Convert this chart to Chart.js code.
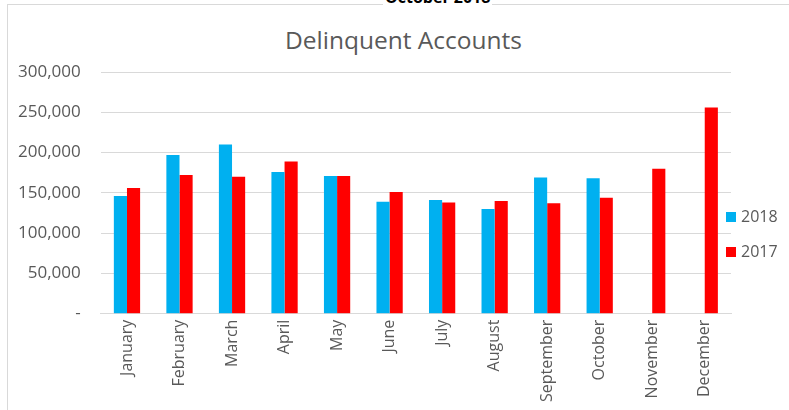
<!DOCTYPE html>
<html>
<head>
<meta charset="utf-8">
<script src="https://cdn.jsdelivr.net/npm/chart.js@4.4.1/dist/chart.umd.min.js"></script>
<style>
    html, body { margin: 0; padding: 0; background: #fff; }
    #wrap { position: relative; width: 789px; height: 410px; overflow: hidden; }
    #frame { position: absolute; left: 7px; top: 4px; width: 800px; height: 420px;
             border-left: 1px solid #d9d9d9; border-top: 1px solid #d9d9d9; }
    #topNote { position: absolute; left: 383px; top: -13px; font: bold 16px "Open Sans", sans-serif;
               color: #000; background: #fff; padding: 0 2px; line-height: 20px; }
    canvas { position: absolute; left: 0; top: 0; }
    #title { position: absolute; left: 18px; width: 771px; top: 23px; text-align: center;
             font: 24.5px "Open Sans", sans-serif; color: #595959; line-height: 34px; }
    #legend { position: absolute; left: 726px; top: 206px; font: 16px "Open Sans", sans-serif; color: #595959; }
    #legend div { height: 35px; line-height: 20px; white-space: nowrap; }
    #legend span { display: inline-block; width: 10px; height: 10px; margin-right: 5px; vertical-align: 0; }
</style>
</head>
<body>
<div id="wrap">
    <div id="frame"></div>
    <div id="topNote">October 2018</div>
    <div id="title">Delinquent Accounts</div>
    <canvas id="chart" width="789" height="410"></canvas>
    <div id="legend"></div>
</div>
<script>
var months = ["January", "February", "March", "April", "May", "June",
    "July", "August", "September", "October", "November", "December"];
var values2018 = [146000, 197000, 210000, 176000, 171000, 139000,
    141000, 130000, 169000, 168000, null, null];
var values2017 = [156000, 172000, 170000, 189000, 171000, 151000,
    138000, 140000, 137000, 144000, 180000, 256000];
var yTicks = [0, 50000, 100000, 150000, 200000, 250000, 300000];

var textColor = "#595959";

var chart = new Chart(document.getElementById("chart").getContext("2d"), {
    type: "bar",
    data: {
        labels: months,
        datasets: [
            { label: "2018", data: values2018, backgroundColor: "#00B0F0",
              categoryPercentage: 0.5, barPercentage: 1.0 },
            { label: "2017", data: values2017, backgroundColor: "#FF0000",
              categoryPercentage: 0.5, barPercentage: 1.0 }
        ]
    },
    options: {
        responsive: false,
        animation: false,
        layout: { padding: { left: -2, top: 72, right: 58, bottom: 2 } },
        plugins: {
            title: { display: false },
            legend: { display: false },
            tooltip: { enabled: false }
        },
        scales: {
            x: {
                grid: { display: false, drawTicks: false },
                border: { color: "#d9d9d9" },
                ticks: {
                    color: textColor,
                    font: { family: "Open Sans", size: 16 },
                    minRotation: 90,
                    maxRotation: 90,
                    padding: 6
                }
            },
            y: {
                min: 0,
                max: 300000,
                afterBuildTicks: function (axis) {
                    axis.ticks = yTicks.map(function (v) { return { value: v }; });
                },
                grid: { color: "#d9d9d9", lineWidth: 1, drawTicks: false },
                border: { display: false },
                ticks: {
                    color: textColor,
                    font: { family: "Open Sans", size: 17 },
                    padding: 20,
                    callback: function (val) {
                        if (val === 0) return "-";
                        return val.toLocaleString("en-US");
                    }
                }
            }
        }
    }
});

// legend built from the chart's own datasets
var legendEl = document.getElementById("legend");
chart.data.datasets.forEach(function (ds) {
    var row = document.createElement("div");
    var box = document.createElement("span");
    box.style.background = ds.backgroundColor;
    row.appendChild(box);
    row.appendChild(document.createTextNode(ds.label));
    legendEl.appendChild(row);
});
</script>
</body>
</html>
